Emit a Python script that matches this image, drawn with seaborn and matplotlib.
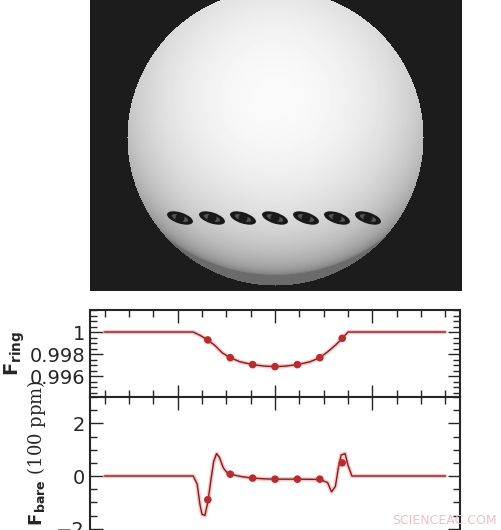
import numpy as np
import matplotlib
matplotlib.use("Agg")
import matplotlib.pyplot as plt
import seaborn as sns
from matplotlib.patches import Ellipse, Circle
from matplotlib.ticker import MultipleLocator

sns.set_style("ticks")
plt.rcParams['font.family'] = ['DejaVu Sans']

# light curve
flux_x = [-1.75, -0.84, -0.77, -0.69, -0.62, -0.54, -0.46, -0.36, -0.23, -0.1, 0.0,
          0.1, 0.23, 0.36, 0.46, 0.54, 0.62, 0.69, 0.75, 1.75]
flux_y = [1.0, 1.0, 0.9997, 0.99928, 0.9988, 0.9981, 0.99767, 0.9973, 0.99704, 0.9969,
          0.99686, 0.9969, 0.99704, 0.9973, 0.99767, 0.9982, 0.9988, 0.99943, 1.0, 1.0]
pts_x = [-0.69, -0.46, -0.23, 0.0, 0.23, 0.46, 0.69]
pts_flux = [0.99928, 0.99767, 0.99704, 0.99686, 0.99704, 0.99767, 0.99943]

# residual ring - bare (100 ppm)
res_x = [-1.75, -0.84, -0.80, -0.77, -0.75, -0.72, -0.69, -0.66, -0.63, -0.60, -0.57,
         -0.53, -0.49, -0.46, -0.35, -0.23, -0.1, 0.0, 0.23, 0.46, 0.54, 0.58, 0.62,
         0.65, 0.68, 0.72, 0.75, 0.79, 1.75]
res_y = [0.0, 0.0, -0.3, -1.1, -1.45, -1.5, -1.0, -0.2, 0.55, 0.85, 0.7,
         0.3, 0.12, 0.07, -0.02, -0.08, -0.11, -0.12, -0.12, -0.13, -0.25, -0.6, -0.4,
         0.3, 0.8, 0.85, 0.4, 0.0, 0.0]
pts_res = [-0.9, 0.07, -0.08, -0.12, -0.12, -0.12, 0.5]

# planet positions on the star image (pixel coords)
planet_x = [180, 212, 243, 275, 306, 337, 368]
planet_y = 218

W, H = 502, 530
fig = plt.figure(figsize=(W / 100, H / 100), dpi=100)

# star panel
ax0 = fig.add_axes([90 / W, 1 - 291 / H, 372 / W, 291 / H])
cx, cy, r = 275, 137, 148
yy, xx = np.mgrid[0:291, 90:462]
d = np.sqrt((xx - cx) ** 2 + (yy - (cy - 40)) ** 2) / (r * 1.2)
mu = np.sqrt(np.clip(1 - d ** 2, 0, 1))
img = 0.42 + 0.56 * mu ** 0.8
ax0.imshow(img, cmap='gray', vmin=0, vmax=1, extent=[90, 462, 291, 0])
mask = np.sqrt((xx - cx) ** 2 + (yy - cy) ** 2) > r
bg = np.ma.masked_where(~mask, np.ones_like(img) * 0.11)
ax0.imshow(bg, cmap='gray', vmin=0, vmax=1, extent=[90, 462, 291, 0])
for px in planet_x:
    ax0.add_patch(Ellipse((px, planet_y), 27, 11, angle=18, facecolor='#181818', edgecolor='none'))
    ax0.add_patch(Ellipse((px, planet_y), 17, 6, angle=18, facecolor='#555555', edgecolor='none'))
    ax0.add_patch(Circle((px, planet_y), 4.5, facecolor='#1a1a1a', edgecolor='none'))
ax0.set_xlim(90, 462)
ax0.set_ylim(291, 0)
ax0.axis('off')

line_kw = dict(color='#8b1a1a', lw=1.0, zorder=3)
glow_kw = dict(color='#f2a0a0', lw=3.0, alpha=0.6, zorder=2)
mk_kw = dict(color='#c0282b', s=30, zorder=4, edgecolor='none')

def style(ax):
    ax.tick_params(which='both', direction='in', top=True, right=True, labelsize=14)
    ax.tick_params(which='major', length=9, width=1)
    ax.tick_params(which='minor', length=5, width=1)
    for s in ax.spines.values():
        s.set_linewidth(1.5)
    ax.xaxis.set_major_locator(MultipleLocator(1))
    ax.xaxis.set_minor_locator(MultipleLocator(0.25))
    ax.set_xlim(-1.9, 1.9)
    ax.set_xticklabels([])

ax1 = fig.add_axes([90 / W, 1 - 397 / H, 370 / W, 87 / H])
sns.lineplot(x=flux_x, y=flux_y, ax=ax1, **glow_kw)
sns.lineplot(x=flux_x, y=flux_y, ax=ax1, **line_kw)
sns.scatterplot(x=pts_x, y=pts_flux, ax=ax1, **mk_kw)
style(ax1)
ax1.set_ylim(0.9941, 1.002)
ax1.set_yticks([0.996, 0.998, 1.0])
ax1.set_yticklabels(['0.996', '0.998', '1'])
ax1.yaxis.set_minor_locator(MultipleLocator(0.0005))
ax1.set_ylabel(r'$\mathbf{F_{ring}}$', fontsize=14, family='serif', labelpad=2)

ax2 = fig.add_axes([90 / W, 1 - 555 / H, 370 / W, 158 / H])
sns.lineplot(x=res_x, y=res_y, ax=ax2, **glow_kw)
sns.lineplot(x=res_x, y=res_y, ax=ax2, **line_kw)
sns.scatterplot(x=pts_x, y=pts_res, ax=ax2, **mk_kw)
style(ax2)
ax2.set_ylim(-3, 3)
ax2.set_yticks([-2, 0, 2])
ax2.set_yticklabels(['\u22122', '0', '2'])
ax2.yaxis.set_minor_locator(MultipleLocator(0.5))
ax2.set_ylabel(r'$\mathbf{F_{ring}-F_{bare}}$ (100 ppm)', fontsize=13, family='serif', y=0.45)

fig.text(0.99, 0.005, 'SCIENCEAC.COM', color='#f0c0c8', fontsize=9, ha='right', va='bottom')
fig.savefig('out.png', dpi=100)
